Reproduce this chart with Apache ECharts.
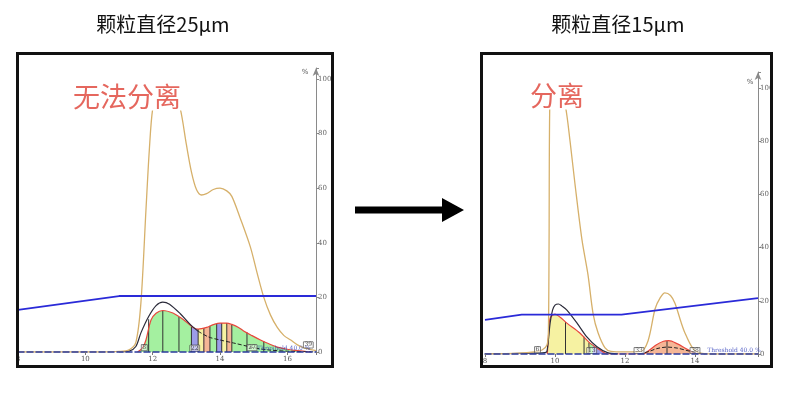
<!DOCTYPE html>
<html>
<head>
<meta charset="utf-8">
<script src="https://cdn.jsdelivr.net/npm/echarts@6/dist/echarts.min.js"></script>
<style>
  html, body { margin: 0; padding: 0; background: #fff; }
  #chart { width: 790px; height: 398px; }
</style>
</head>
<body>
<div id="chart"></div>
<script>
// ---- data ----
var titleLeft = '颗粒直径25μm';
var titleRight = '颗粒直径15μm';
var noteLeft = '无法分离';
var noteRight = '分离';

// left run (25 μm), x = volume, y = %
var leftUv = [[8,0],[10.5,0],[11.0,0.2],[11.3,0.8],[11.5,3.5],[11.65,18],[11.8,52],[11.9,74],[12.0,89],[12.15,95],[12.4,96],[12.65,94],[12.82,89],[13.0,76],[13.15,66],[13.3,59.5],[13.45,57.5],[13.6,58],[13.8,59.5],[14.0,60],[14.2,59],[14.35,57],[14.6,49],[14.9,38.5],[15.1,29],[15.3,20],[15.5,13.5],[15.7,9],[15.9,6],[16.1,4.4],[16.3,2.6],[16.5,1.5],[16.85,0.5]];
var leftBlack = [[11.0,0],[11.3,0.3],[11.5,2],[11.65,7],[11.88,13],[12.1,17],[12.3,18.3],[12.5,17.5],[12.82,14],[13.12,10],[13.35,7.6]];
var leftBlackTail = [[13.35,7.6],[13.66,5.5],[14.0,4.4],[14.4,3.3],[15.0,1.6],[15.4,0.8],[16.0,0.3],[16.85,0]];
var leftRed = [[11.55,0],[11.7,1.5],[11.8,4.4],[11.95,11.7],[12.1,14.2],[12.3,15.2],[12.6,14.3],[12.8,12.8],[13.0,11],[13.2,9],[13.35,8.4],[13.6,9],[13.8,10],[14.0,10.6],[14.2,10.6],[14.35,10.1],[14.55,9],[14.7,7.7],[14.95,6],[15.2,4.4],[15.45,3],[15.7,1.8],[16.0,1],[16.3,0.5],[16.7,0]];
var leftGradient = [[8,15.4],[11.0,20.5],[16.85,20.5]];
var leftCuts = [[11.88,12],[12.3,15.2],[12.78,12.8],[13.15,9.2],[13.35,8.4],[13.52,8.8],[13.7,9.6],[13.9,10.3],[14.05,10.6],[14.2,10.6],[14.35,10.1],[14.8,7.2],[15.3,4]];
var leftBands = [[8,13.15,'g'],[13.15,13.35,'b'],[13.35,13.5,'y'],[13.5,13.7,'s'],[13.7,13.9,'g'],[13.9,14.05,'b'],[14.05,14.2,'y'],[14.2,14.35,'s'],[14.35,16.9,'g']];
var leftTags = [['8',11.75,1.6],['22',13.25,1.4],['27',14.95,1.6],['39',16.62,2.6]];
var leftThreshold = [15.1,1.4];

// right run (15 μm)
var rightUv = [[8,0],[9.0,0.3],[9.4,0.8],[9.63,1.5],[9.77,3.4],[9.81,8],[9.83,40],[9.85,93],[9.9,99],[10.05,98],[10.2,96],[10.3,93],[10.43,80],[10.57,64],[10.77,43],[10.94,30],[11.09,15],[11.23,8],[11.43,2.3],[11.6,1],[12.0,0.8],[12.45,1],[12.66,5],[12.86,17],[13.0,21],[13.14,23],[13.3,22],[13.43,19],[13.6,12],[13.71,8],[13.91,2.7],[14.1,0.5],[14.5,0],[15.8,0]];
var rightBlack = [[8,0],[9.3,0.3],[9.7,0.5],[9.77,1],[9.86,11.6],[9.93,16.5],[10.0,18.4],[10.1,18.8],[10.2,18],[10.34,16.5],[10.63,11.6],[10.91,6.4],[11.2,2.7],[11.5,0.5],[11.8,0]];
var rightBlackTail = [[12.4,0],[12.7,1],[12.9,2],[13.2,2.6],[13.5,2.2],[13.8,1.2],[14.1,0.3],[14.3,0]];
var rightRed = [[9.78,0],[9.82,8],[9.86,13.5],[10.0,15],[10.15,13.8],[10.34,11.6],[10.71,7.9],[11.0,4.1],[11.29,1.5],[11.5,0],[12.5,0],[12.7,1.5],[12.9,3.5],[13.1,4.8],[13.25,5],[13.5,3.8],[13.75,2],[14.0,0.4],[14.15,0]];
var rightGradient = [[8,12.8],[9.05,14.8],[11.9,14.8],[15.8,21]];
var rightCuts = [[10.3,12],[10.83,6.5],[10.97,4.3],[13.2,4.9]];
var rightBands = [[8,11.0,'y'],[11.0,11.1,'g'],[11.1,12.0,'b'],[12.0,15.9,'s']];
var rightTags = [['6',9.5,1.6],['13',11.05,1.3],['33',12.4,1.3],['38',14.0,1.3]];
var rightThreshold = [14.35,1.4];

var yTicks = [0, 20, 40, 60, 80, 100];

// ---- styles ----
var fillColors = { g: '#a4f0a0', b: '#9c9ce8', y: '#f6f2a2', s: '#f5b696' };
var uvColor = '#d6b06a';
var redColor = '#e8473c';
var blueColor = '#2a2ad8';
var tickFont = 'DejaVu Serif';

function pieces(bands) {
    return bands.map(function (b) {
        return { gte: b[0], lt: b[1], color: fillColors[b[2]] };
    });
}

function tagData(tags) {
    return tags.map(function (t) { return { name: t[0], value: [t[1], t[2]] }; });
}

function xAxisFor(grid, max) {
    return {
        type: 'value', gridIndex: grid, min: 8, max: max, interval: 2, z: 10,
        axisLine: { lineStyle: { color: '#2b3a9c', type: 'dashed', width: 1.5 } },
        axisTick: { show: true, length: 3, lineStyle: { color: '#777' } },
        axisLabel: {
            fontSize: 7, color: '#555', fontFamily: tickFont, margin: 4,
            formatter: function (v) { return v % 2 === 0 ? v : ''; }
        },
        splitLine: { show: false }
    };
}

function yAxisFor(grid, max) {
    return {
        type: 'value', gridIndex: grid, position: 'right', min: 0, max: max, interval: 20,
        axisLine: { show: true, symbol: ['none', 'arrow'], symbolSize: [5, 8], lineStyle: { color: '#8a8a8a', width: 1 } },
        axisTick: { show: true, length: 3, lineStyle: { color: '#8a8a8a' } },
        axisLabel: {
            fontSize: 7, color: '#666', fontFamily: tickFont, margin: 2,
            formatter: function (v) { return yTicks.indexOf(v) >= 0 ? v : ''; }
        },
        splitLine: { show: false }
    };
}

function panelSeries(k, d) {
    var ax = { xAxisIndex: k, yAxisIndex: k };
    var line = function (data, color, width, extra) {
        return Object.assign({
            type: 'line', data: data, showSymbol: false, smooth: 0.3,
            lineStyle: { color: color, width: width }, silent: true
        }, ax, extra || {});
    };
    return [
        // fraction fill under the red trace, coloured by visualMap bands
        line(d.red, redColor, 0, { areaStyle: { opacity: 1 }, z: 2 }),
        Object.assign({ type: 'bar', data: d.cuts, barWidth: 1, itemStyle: { color: '#333' }, z: 3, silent: true }, ax),
        line(d.red, redColor, 1.2, { z: 4 }),
        line(d.black, '#2b2b3a', 1.2, { z: 5 }),
        line(d.blackTail, '#222', 1, { z: 5, lineStyle: { color: '#222', width: 1, type: [4, 2] } }),
        line(d.uv, uvColor, 1.3, { z: 6 }),
        line(d.grad, blueColor, 1.8, { z: 7, smooth: false }),
        Object.assign({
            type: 'scatter', data: tagData(d.tags), symbolSize: 0, z: 8, silent: true,
            label: { show: true, formatter: '{b}', fontSize: 6, color: '#222', fontFamily: tickFont, position: 'inside',
                     backgroundColor: 'rgba(255,255,255,0.6)', borderColor: '#333', borderWidth: 0.5, padding: [0, 1] }
        }, ax),
        Object.assign({
            type: 'scatter', data: [{ name: 'Threshold 40.0 %', value: d.thr }], symbolSize: 0, z: 8, silent: true,
            label: { show: true, formatter: '{b}', fontSize: 6, color: '#2a3ab8', fontFamily: tickFont, position: 'right', distance: 0 }
        }, ax)
    ];
}

var left = { red: leftRed, cuts: leftCuts, black: leftBlack, blackTail: leftBlackTail, uv: leftUv, grad: leftGradient, tags: leftTags, thr: leftThreshold };
var right = { red: rightRed, cuts: rightCuts, black: rightBlack, blackTail: rightBlackTail, uv: rightUv, grad: rightGradient, tags: rightTags, thr: rightThreshold };
var series = panelSeries(0, left).concat(panelSeries(1, right));
var perPanel = series.length / 2;

var chart = echarts.init(document.getElementById('chart'), null, { renderer: 'canvas' });
chart.setOption({
    backgroundColor: '#fff',
    animation: false,
    grid: [
        { left: 18, right: 474, top: 68, height: 284, containLabel: false, outerBoundsMode: 'none' },
        { left: 485, right: 32, top: 72, height: 282, containLabel: false, outerBoundsMode: 'none' }
    ],
    xAxis: [xAxisFor(0, 16.85), xAxisFor(1, 15.8)],
    yAxis: [yAxisFor(0, 104), yAxisFor(1, 106)],
    visualMap: [
        { show: false, type: 'piecewise', seriesIndex: 0, dimension: 0, pieces: pieces(leftBands), outOfRange: { color: fillColors.g } },
        { show: false, type: 'piecewise', seriesIndex: perPanel, dimension: 0, pieces: pieces(rightBands), outOfRange: { color: fillColors.y } }
    ],
    series: series,
    graphic: [
        { type: 'text', x: 163, y: 24, z: 100, style: { text: titleLeft, fill: '#111', font: '20px "Noto Sans CJK SC"', align: 'center', verticalAlign: 'middle' } },
        { type: 'text', x: 618, y: 24, z: 100, style: { text: titleRight, fill: '#111', font: '20px "Noto Sans CJK SC"', align: 'center', verticalAlign: 'middle' } },
        { type: 'text', x: 72, y: 97, z: 100, style: { text: noteLeft, fill: '#e5675e', font: '27px "Noto Sans CJK SC"', align: 'left', verticalAlign: 'middle', backgroundColor: '#fff', padding: [0, 1] } },
        { type: 'text', x: 529, y: 96, z: 100, style: { text: noteRight, fill: '#e5675e', font: '27px "Noto Sans CJK SC"', align: 'left', verticalAlign: 'middle', backgroundColor: '#fff', padding: [0, 1] } },
        { type: 'text', x: 305, y: 72, z: 100, style: { text: '%', fill: '#555', font: '7px "DejaVu Serif"', align: 'center', verticalAlign: 'middle' } },
        { type: 'text', x: 750, y: 82, z: 100, style: { text: '%', fill: '#555', font: '7px "DejaVu Serif"', align: 'center', verticalAlign: 'middle' } },
        { type: 'rect', z: 100, shape: { x: 17.5, y: 53.5, width: 315, height: 313 }, style: { fill: null, stroke: '#111', lineWidth: 3 } },
        { type: 'rect', z: 100, shape: { x: 481.5, y: 53.5, width: 290, height: 313 }, style: { fill: null, stroke: '#111', lineWidth: 3 } },
        { type: 'polygon', z: 100, shape: { points: [[355, 206.5], [442, 206.5], [442, 198], [464, 210], [442, 222], [442, 213.5], [355, 213.5]] }, style: { fill: '#000' } }
    ]
});
</script>
</body>
</html>
